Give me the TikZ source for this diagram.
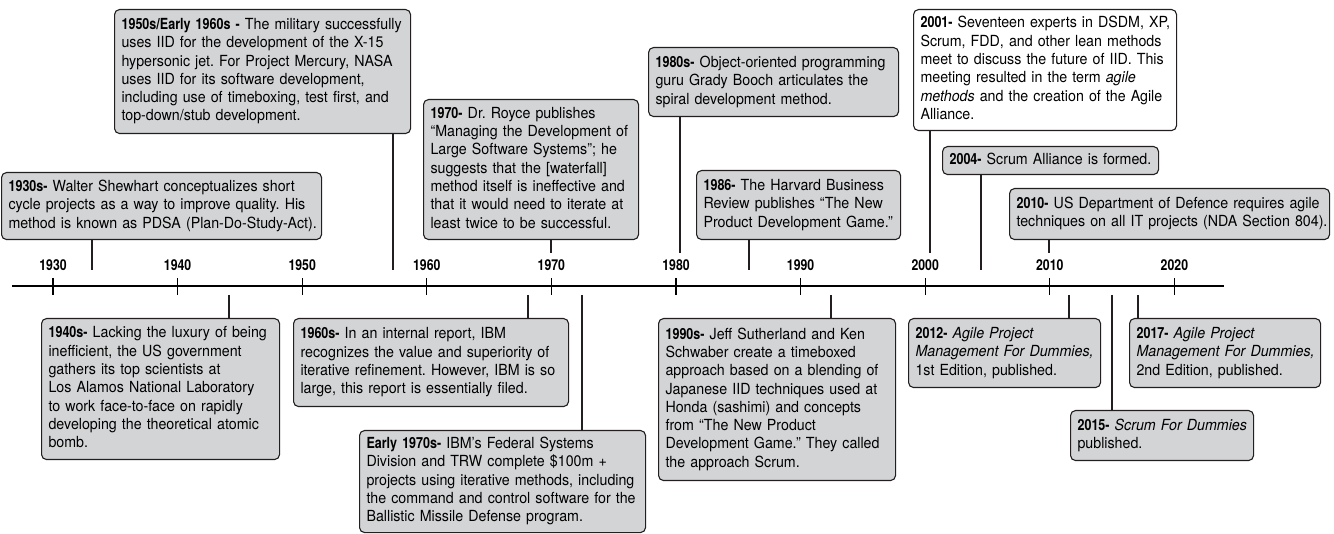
\documentclass[tikz,border=0pt]{standalone}
\usepackage{fontspec}
\setmainfont[FakeStretch=0.93]{TeX Gyre Heros}
\newfontfamily\yearfont[FakeStretch=0.82]{TeX Gyre Heros}
\newcommand\hd[1]{{\yearfont\bfseries #1}}
\newcommand\lines[1]{\begin{tabular}[t]{@{}l@{}}#1\end{tabular}}
\definecolor{boxgray}{HTML}{D3D4D6}
\definecolor{linec}{HTML}{231F20}
\frenchspacing
\begin{document}
\begin{tikzpicture}[x=1pt,y=-1pt,
  box/.style={draw=linec, line width=1.1pt, rounded corners=5pt, fill=boxgray,
    anchor=north west, inner xsep=7pt, inner ysep=0pt, align=left,
    font=\fontsize{15.3}{18.3}\selectfont\frenchspacing},
  whitebox/.style={box, fill=white},
  conn/.style={draw=linec, line width=1.2pt},
  axisline/.style={draw=black, line width=1.2pt},
  yearlbl/.style={font=\yearfont\bfseries\fontsize{15}{18}\selectfont, inner sep=0pt, anchor=center}
]
\useasboundingbox (0,0) rectangle (1334,534);

% axis
\coordinate (axL) at (12,286);
\coordinate (axR) at (1224,286);
\draw[axisline] (axL) -- (axR);
\foreach \yr [count=\i from 0] in {1930,1940,1950,1960,1970,1980,1990,2000,2010,2020} {
  \pgfmathsetmacro{\xx}{53+124.6*\i}
  \coordinate (t\yr a) at (\xx,278);
  \coordinate (t\yr b) at (\xx,295);
  \draw[axisline] (t\yr a) -- (t\yr b);
  \node[yearlbl] (y\yr) at (\xx,265) {\yr};
}

% boxes above
\node[box, text width=306pt, minimum height=67pt] (a1) at (1,172)
 {\lines{\hd{1930s-} Walter Shewhart conceptualizes short\\cycle projects as a way to improve quality. His\\method is known as PDSA (Plan-Do-Study-Act).}};
\node[box, text width=282pt, minimum height=124pt] (a2) at (114,9)
 {\lines{\hd{1950s/Early 1960s -} The military successfully\\uses IID for the development of the X-15\\hypersonic jet. For Project Mercury, NASA\\uses IID for its software development,\\including use of timeboxing, test first, and\\top-down/stub development.}};
\node[box, text width=201pt, minimum height=140pt] (a3) at (423,99)
 {\lines{\hd{1970-} Dr. Royce publishes\\“Managing the Development of\\Large Software Systems”; he\\suggests that the [waterfall]\\method itself is ineffective and\\that it would need to iterate at\\least twice to be successful.}};
\node[box, text width=236pt, minimum height=69pt] (a4) at (648,47)
 {\lines{\hd{1980s-} Object-oriented programming\\guru Grady Booch articulates the\\spiral development method.}};
\node[box, text width=190pt, minimum height=69pt] (a5) at (696,170)
 {\lines{\hd{1986-} The Harvard Business\\Review publishes “The New\\Product Development Game.”}};
\node[whitebox, text width=249pt, minimum height=121pt] (a6) at (913,9)
 {\lines{\hd{2001-} Seventeen experts in DSDM, XP,\\Scrum, FDD, and other lean methods\\meet to discuss the future of IID. This\\meeting resulted in the term \textit{agile}\\\textit{methods} and the creation of the Agile\\Alliance.}};
\node[box, text width=202pt, minimum height=28pt] (a7) at (942,146)
 {\lines{\hd{2004-} Scrum Alliance is formed.}};
\node[box, text width=306pt, minimum height=51pt] (a8) at (1009,188)
 {\lines{\hd{2010-} US Department of Defence requires agile\\techniques on all IT projects (NDA Section 804).}};

% boxes below
\node[box, text width=224pt, minimum height=141pt] (b1) at (41,318)
 {\lines{\hd{1940s-} Lacking the luxury of being\\inefficient, the US government\\gathers its top scientists at\\Los Alamos National Laboratory\\to work face-to-face on rapidly\\developing the theoretical atomic\\bomb.}};
\node[box, text width=261pt, minimum height=88pt] (b2) at (293,318)
 {\lines{\hd{1960s-} In an internal report, IBM\\recognizes the value and superiority of\\iterative refinement. However, IBM is so\\large, this report is essentially filed.}};
\node[box, text width=272pt, minimum height=102pt] (b3) at (359,430)
 {\lines{\hd{Early 1970s-} IBM’s Federal Systems\\Division and TRW complete \$100m +\\projects using iterative methods, including\\the command and control software for the\\Ballistic Missile Defense program.}};
\node[box, text width=223pt, minimum height=162pt] (b4) at (658,318)
 {\lines{\hd{1990s-} Jeff Sutherland and Ken\\Schwaber create a timeboxed\\approach based on a blending of\\Japanese IID techniques used at\\Honda (sashimi) and concepts\\from “The New Product\\Development Game.” They called\\the approach Scrum.}};
\node[box, text width=178pt, minimum height=69pt] (b5) at (908,318)
 {\lines{\hd{2012-} \textit{Agile Project}\\\textit{Management For Dummies,}\\1st Edition, published.}};
\node[box, text width=169pt, minimum height=50pt] (b6) at (1070,410)
 {\lines{\hd{2015-} \textit{Scrum For Dummies}\\published.}};
\node[box, text width=177pt, minimum height=69pt] (b7) at (1129,318)
 {\lines{\hd{2017-} \textit{Agile Project}\\\textit{Management For Dummies,}\\2nd Edition, published.}};

% connector ends above
\coordinate (e1) at (92,270);
\coordinate (e2) at (393,270);
\coordinate (e3) at (551,253);
\coordinate (e4) at (680,253);
\coordinate (e5) at (749,270);
\coordinate (e6) at (930,253);
\coordinate (e7) at (981,270);
\coordinate (e8) at (1049,253);
\draw[conn] (a1.south -| e1) -- (e1);
\draw[conn] (a2.south -| e2) -- (e2);
\draw[conn] (a3.south -| e3) -- (e3);
\draw[conn] (a4.south -| e4) -- (e4);
\draw[conn] (a5.south -| e5) -- (e5);
\draw[conn] (a6.south -| e6) -- (e6);
\draw[conn] (a7.south -| e7) -- (e7);
\draw[conn] (a8.south -| e8) -- (e8);

% connector starts below
\coordinate (s1) at (229,295);
\coordinate (s2) at (528,295);
\coordinate (s3) at (582,295);
\coordinate (s4) at (831,295);
\coordinate (s5) at (1069,295);
\coordinate (s6) at (1112,295);
\coordinate (s7) at (1138,295);
\draw[conn] (s1) -- (b1.north -| s1);
\draw[conn] (s2) -- (b2.north -| s2);
\draw[conn] (s3) -- (b3.north -| s3);
\draw[conn] (s4) -- (b4.north -| s4);
\draw[conn] (s5) -- (b5.north -| s5);
\draw[conn] (s6) -- (b6.north -| s6);
\draw[conn] (s7) -- (b7.north -| s7);
\end{tikzpicture}
\end{document}
